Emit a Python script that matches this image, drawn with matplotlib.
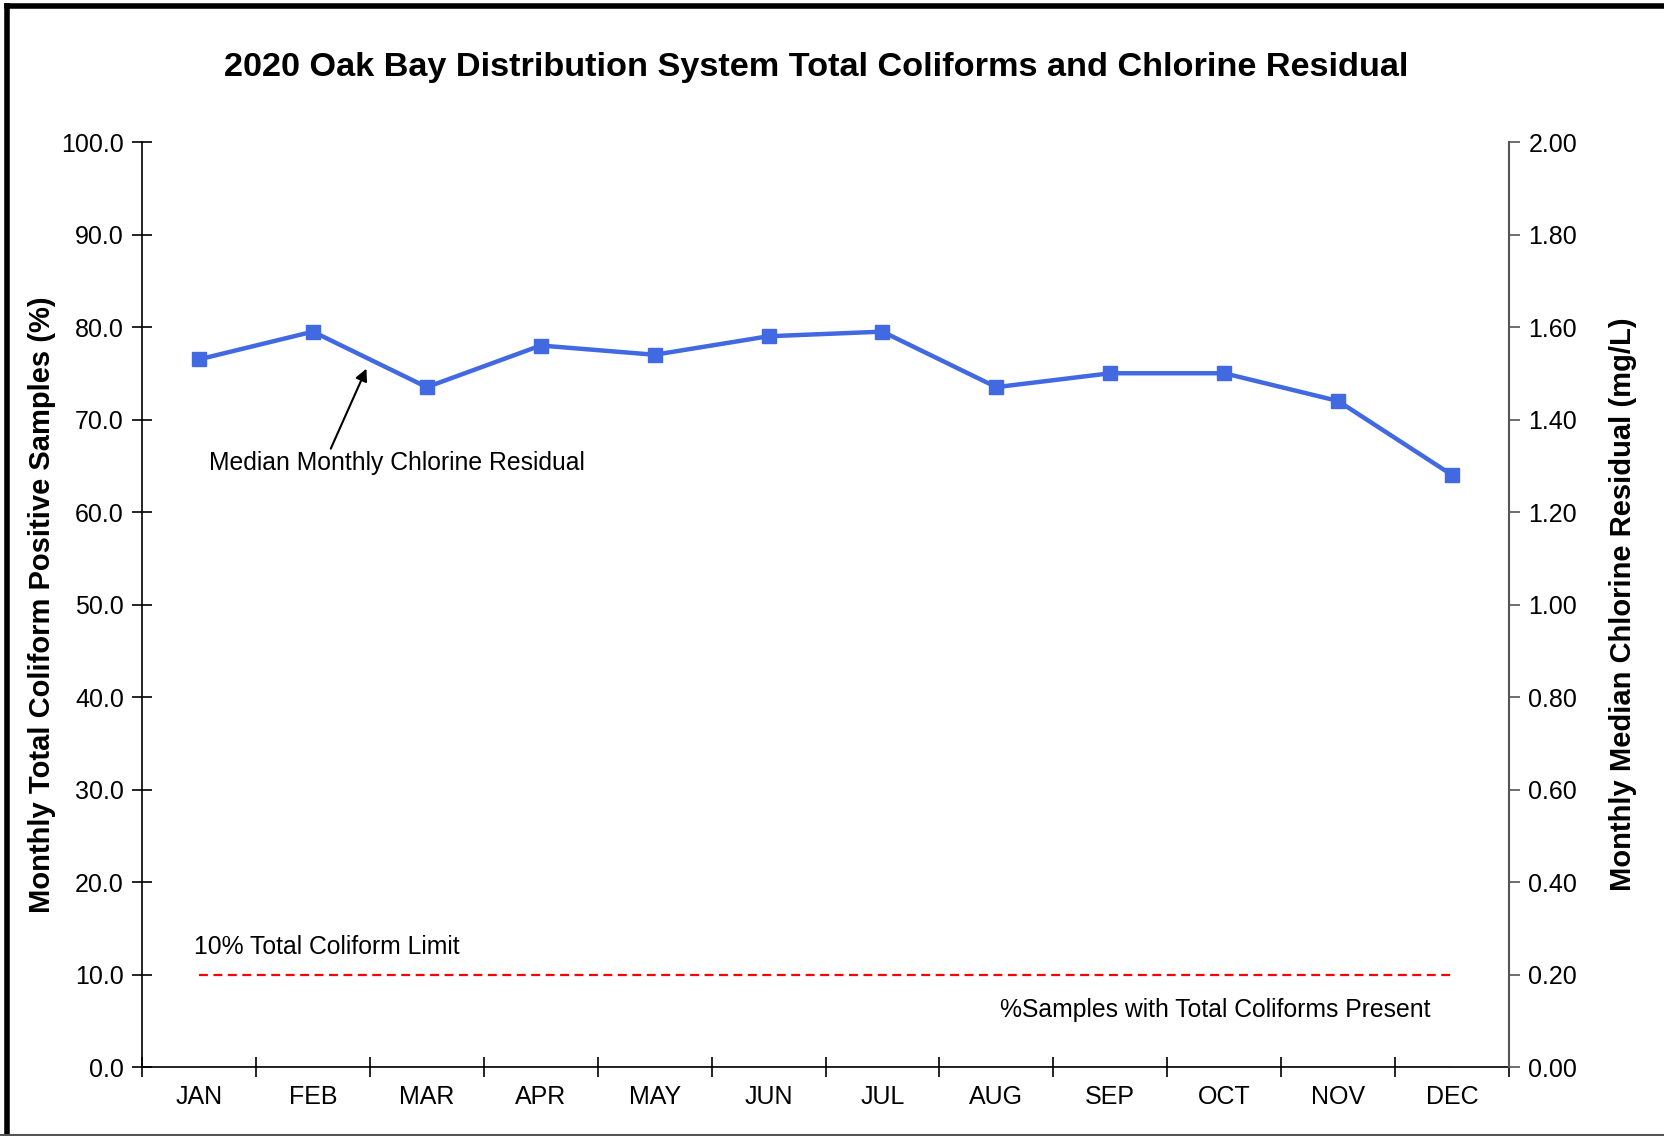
import numpy as np
import matplotlib.pyplot as plt
from matplotlib.lines import Line2D

plt.rcParams['font.family'] = ['Liberation Sans', 'DejaVu Sans']

# data
months = ["JAN", "FEB", "MAR", "APR", "MAY", "JUN",
          "JUL", "AUG", "SEP", "OCT", "NOV", "DEC"]
chlorine = [1.53, 1.59, 1.47, 1.56, 1.54, 1.58,
            1.59, 1.47, 1.50, 1.50, 1.44, 1.28]      # mg/L
coliform_pct = [0.0] * 12                            # % positive samples
limit_pct = 10.0

x = np.arange(len(months)) + 0.5

fig = plt.figure(figsize=(16.65, 11.36), dpi=100)
ax = fig.add_axes([0.0853, 0.0607, 0.8210, 0.8143])
ax2 = ax.twinx()

# coliform series (all zero -> sits on the x axis) and the 10% limit
ax.plot(x, coliform_pct, color="black", lw=1, zorder=1)
ax.plot([x[0], x[-1]], [limit_pct, limit_pct], color="#ff0000",
        lw=1.6, ls=(0, (4, 2.5)))

# chlorine residual
ax2.plot(x, chlorine, color="#4169e1", lw=3.2, marker="s", ms=10)

ax.set_xlim(0, 12)
ax.set_ylim(0, 100)
ax2.set_ylim(0, 2.0)

ax.set_yticks(np.arange(0, 101, 10))
ax.set_yticklabels([f"{v:.1f}" for v in np.arange(0, 101, 10)])
ax2.set_yticks(np.arange(0, 2.01, 0.2))
ax2.set_yticklabels([f"{v:.2f}" for v in np.arange(0, 2.01, 0.2)])

ax.set_xticks(np.arange(0, 13))
ax.set_xticklabels([])
ax.set_xticks(x, minor=True)
ax.set_xticklabels(months, minor=True)
ax.tick_params(axis="x", which="minor", length=0, labelsize=18, pad=13)
ax.tick_params(axis="x", which="major", direction="inout", length=14, width=1.2)
ax.tick_params(axis="y", direction="inout", length=14, width=1.2,
               labelsize=18, pad=6)
ax2.tick_params(axis="y", direction="out", length=8, width=1.2,
                labelsize=18, pad=6, color="#555555")

for a in (ax, ax2):
    a.spines["top"].set_visible(False)
ax.spines["right"].set_visible(False)
ax2.spines["left"].set_visible(False)
ax2.spines["bottom"].set_visible(False)
ax.spines["left"].set_linewidth(1.2)
ax.spines["bottom"].set_linewidth(1.2)
ax2.spines["right"].set_color("#555555")
ax2.spines["right"].set_linewidth(1.5)

ax.set_ylabel("Monthly Total Coliform Positive Samples (%)",
              fontsize=21, fontweight="bold", labelpad=4)
ax2.set_ylabel("Monthly Median Chlorine Residual (mg/L)",
               fontsize=21, fontweight="bold", labelpad=23)

fig.text(0.49, 0.941, "2020 Oak Bay Distribution System Total Coliforms and Chlorine Residual",
         ha="center", va="center", fontsize=24.7, fontweight="bold")

ax.text(0.46, 13.0, "10% Total Coliform Limit", fontsize=17.8, va="center")
ax.text(11.31, 6.2, "%Samples with Total Coliforms Present", fontsize=17.8,
        va="center", ha="right")
ax2.annotate("Median Monthly Chlorine Residual", xy=(1.97, 1.51),
             xytext=(0.59, 1.305), fontsize=17.8, va="center",
             arrowprops=dict(arrowstyle="-|>", color="black", lw=1.5,
                             shrinkA=0, shrinkB=0, mutation_scale=18,
                             relpos=(0.32, 1.0)))

# frame around the figure
fig.add_artist(Line2D([0.0042, 0.0042], [0, 0.9947], color="black", lw=4,
                      transform=fig.transFigure))
fig.add_artist(Line2D([0.0042, 1.0], [0.9947, 0.9947], color="black", lw=4,
                      transform=fig.transFigure))
fig.add_artist(Line2D([0, 1], [0.0009, 0.0009], color="#555555", lw=1.5,
                      transform=fig.transFigure))

fig.savefig("out.png", dpi=100, facecolor="white")
